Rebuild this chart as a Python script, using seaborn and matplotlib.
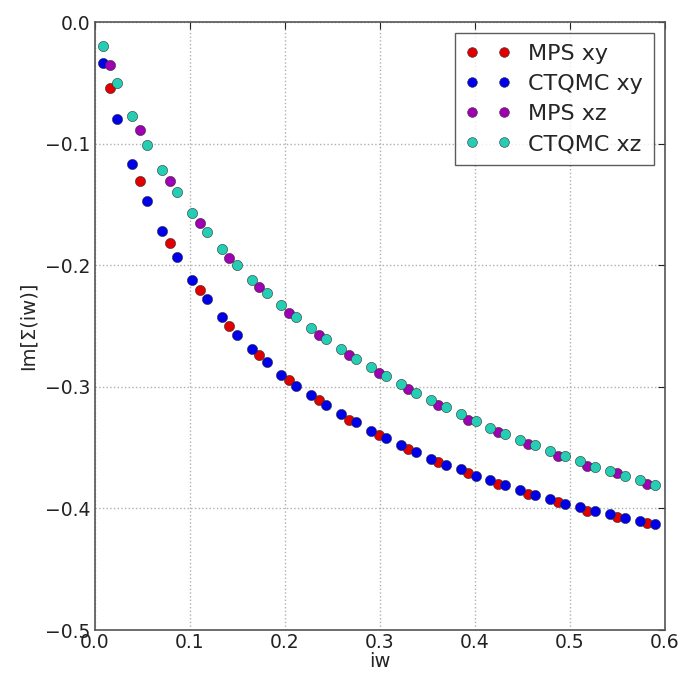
import numpy as np
import pandas as pd
import matplotlib
matplotlib.use("Agg")
import matplotlib.pyplot as plt
from matplotlib.lines import Line2D
import seaborn as sns

# Matsubara frequencies
x_ctqmc = [0.0079, 0.0236, 0.0393, 0.0550, 0.0707, 0.0864, 0.1021, 0.1178,
           0.1335, 0.1492, 0.1649, 0.1806, 0.1963, 0.2120, 0.2278, 0.2435,
           0.2592, 0.2749, 0.2906, 0.3063, 0.3220, 0.3377, 0.3534, 0.3691,
           0.3848, 0.4006, 0.4163, 0.4320, 0.4477, 0.4634, 0.4791, 0.4948,
           0.5105, 0.5262, 0.5419, 0.5576, 0.5733, 0.5890]
x_mps = [0.0157, 0.0471, 0.0785, 0.1100, 0.1414, 0.1728, 0.2042, 0.2356,
         0.2670, 0.2985, 0.3299, 0.3613, 0.3927, 0.4241, 0.4555, 0.4869,
         0.5184, 0.5498, 0.5812]

ctqmc_xy = [-0.034, -0.080, -0.117, -0.147, -0.172, -0.193, -0.212, -0.228,
            -0.243, -0.257, -0.269, -0.280, -0.290, -0.299, -0.307, -0.315,
            -0.322, -0.329, -0.336, -0.342, -0.348, -0.354, -0.359, -0.364,
            -0.368, -0.373, -0.377, -0.381, -0.385, -0.389, -0.392, -0.396,
            -0.399, -0.402, -0.405, -0.408, -0.410, -0.413]
mps_xy = [-0.054, -0.131, -0.182, -0.220, -0.250, -0.274, -0.294, -0.311,
          -0.327, -0.340, -0.351, -0.362, -0.371, -0.380, -0.388, -0.395,
          -0.402, -0.407, -0.412]
ctqmc_xz = [-0.020, -0.050, -0.077, -0.101, -0.122, -0.140, -0.157, -0.173,
            -0.187, -0.200, -0.212, -0.223, -0.233, -0.243, -0.252, -0.261,
            -0.269, -0.277, -0.284, -0.291, -0.298, -0.305, -0.311, -0.317,
            -0.322, -0.328, -0.334, -0.339, -0.344, -0.348, -0.353, -0.357,
            -0.361, -0.366, -0.369, -0.373, -0.377, -0.381]
mps_xz = [-0.035, -0.089, -0.131, -0.165, -0.194, -0.218, -0.239, -0.257,
          -0.274, -0.289, -0.302, -0.315, -0.327, -0.337, -0.347, -0.357,
          -0.365, -0.371, -0.380]

labels = ["MPS xy", "CTQMC xy", "MPS xz", "CTQMC xz"]
colors = ["#e00000", "#0000e8", "#a000b4", "#25cdb5"]

df = pd.concat([
    pd.DataFrame({"iw": x_mps, "val": mps_xy, "series": labels[0]}),
    pd.DataFrame({"iw": x_ctqmc, "val": ctqmc_xy, "series": labels[1]}),
    pd.DataFrame({"iw": x_mps, "val": mps_xz, "series": labels[2]}),
    pd.DataFrame({"iw": x_ctqmc, "val": ctqmc_xz, "series": labels[3]}),
], ignore_index=True)

sns.set_style("white")
plt.rcParams["font.family"] = ["DejaVu Sans"]
plt.rcParams["axes.unicode_minus"] = True

fig = plt.figure(figsize=(6.86, 6.74), dpi=100)
ax = fig.add_axes([95/686, 1-630/674, (665-95)/686, (630-22)/674])

for lab, col in zip(labels, colors):
    sub = df[df["series"] == lab]
    sns.scatterplot(data=sub, x="iw", y="val", ax=ax, color=col, s=54,
                    edgecolor="#333333", linewidth=0.4, legend=False, zorder=3)

ax.set_xlim(0, 0.6)
ax.set_ylim(-0.5, 0.0)
ax.set_xticks([0.0, 0.1, 0.2, 0.3, 0.4, 0.5, 0.6])
ax.set_yticks([0.0, -0.1, -0.2, -0.3, -0.4, -0.5])
ax.set_xticklabels(["0.0", "0.1", "0.2", "0.3", "0.4", "0.5", "0.6"])
ax.set_yticklabels(["0.0", "\u22120.1", "\u22120.2", "\u22120.3", "\u22120.4", "\u22120.5"])
ax.tick_params(axis="both", direction="in", length=5, width=0.8, labelsize=13.5,
               top=True, right=True, colors="#222222")
ax.tick_params(axis="y", pad=3.5)
ax.tick_params(axis="x", pad=2.5)
ax.grid(True, ls=":", color="#b0b0b0", lw=1.0)
for sp in ax.spines.values():
    sp.set_color("#555555")
    sp.set_linewidth(1.2)

ax.set_xlabel("iw", fontsize=14, labelpad=0)
ax.set_ylabel("Im[\u03a3(iw)]", fontsize=14, labelpad=5)

handles = [Line2D([0, 1], [0, 0], ls="", marker="o", markersize=7,
                  markerfacecolor=c, markeredgecolor="#333333",
                  markeredgewidth=0.4) for c in colors]
leg = ax.legend(handles, labels, loc="upper right", numpoints=2, fontsize=16,
                frameon=True, fancybox=False, handlelength=2.0,
                borderaxespad=0.5, borderpad=0.5, labelspacing=0.45,
                handletextpad=0.8)
leg.get_frame().set_edgecolor("#333333")
leg.get_frame().set_linewidth(1.0)

fig.savefig("out.png", dpi=100, facecolor="white")
